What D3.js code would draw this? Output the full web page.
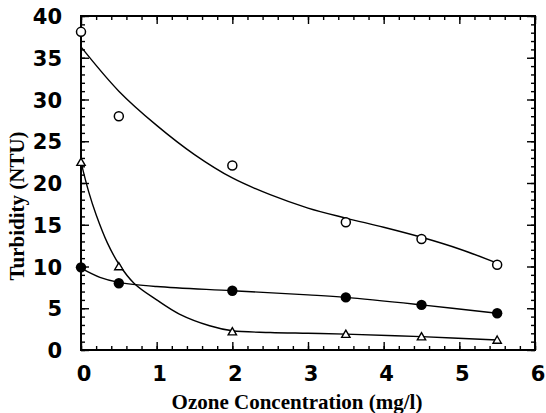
<!DOCTYPE html>
<html>
<head>
<meta charset="utf-8">
<script src="https://cdn.jsdelivr.net/npm/d3@7"></script>
<style>
  body { margin: 0; background: #fff; }
  svg { display: block; }
</style>
</head>
<body>
<div id="chart"></div>
<script>
// measured points
let ozone = [0, 0.5, 2, 3.5, 4.5, 5.5];
let openCircles = [38.1, 28.0, 22.1, 15.3, 13.3, 10.2];
let filledCircles = [9.9, 8.0, 7.1, 6.3, 5.4, 4.4];
let triangles = [22.4, 9.9, 2.1, 1.8, 1.5, 1.1];

// fitted curves
let openCurveX = [0, 0.5, 1, 1.5, 2, 2.5, 3, 3.5, 4, 4.5, 5, 5.5];
let openCurveY = [36.3, 31.0, 26.9, 23.4, 20.6, 18.6, 17.0, 15.8, 14.7, 13.5, 12.1, 10.4];
let filledCurveX = [0, 0.25, 0.5, 1, 2, 3, 3.5, 4.5, 5.5];
let filledCurveY = [9.8, 8.7, 8.1, 7.6, 7.1, 6.6, 6.3, 5.4, 4.4];
let triCurveX = [0, 0.1, 0.2, 0.35, 0.5, 0.7, 1.0, 1.3, 1.7, 2.0, 2.5, 3.0, 3.5, 4.5, 5.5];
let triCurveY = [22.5, 19.0, 16.2, 12.8, 10.3, 8.0, 6.0, 4.3, 2.9, 2.3, 2.1, 2.0, 1.9, 1.6, 1.2];

let xTicks = [0, 1, 2, 3, 4, 5, 6];
let yTicks = [0, 5, 10, 15, 20, 25, 30, 35, 40];

let width = 546, height = 413;
let margin = {left: 81, right: 11, top: 16, bottom: 63};

let svg = d3.select("#chart")
    .append("svg")
    .attr("width", width)
    .attr("height", height);

let x = d3.scaleLinear().domain([0, 6]).range([margin.left, width - margin.right]);
let y = d3.scaleLinear().domain([0, 40]).range([height - margin.bottom, margin.top]);

let innerW = width - margin.left - margin.right;
let innerH = height - margin.top - margin.bottom;

// ticks pointing inward, on all four sides
function tickAxis(axisFn, scale, values, size, translate) {
    svg.append("g")
        .attr("transform", translate)
        .call(axisFn(scale).tickValues(values).tickSize(size).tickFormat(""))
        .call(g => g.select(".domain").remove())
        .selectAll("line").attr("stroke", "#000").attr("stroke-width", 1.4);
}

let xMinor = d3.range(0, 30.5).map(d => d / 5);
let yMinor = d3.range(0, 41);

tickAxis(d3.axisTop, x, xMinor, 4, `translate(0,${y(0)})`);
tickAxis(d3.axisTop, x, xTicks, 8, `translate(0,${y(0)})`);
tickAxis(d3.axisBottom, x, xMinor, 4, `translate(0,${y(40)})`);
tickAxis(d3.axisBottom, x, xTicks, 8, `translate(0,${y(40)})`);
tickAxis(d3.axisRight, y, yMinor, 4, `translate(${x(0)},0)`);
tickAxis(d3.axisRight, y, yTicks, 8, `translate(${x(0)},0)`);
tickAxis(d3.axisLeft, y, yMinor, 4, `translate(${x(6)},0)`);
tickAxis(d3.axisLeft, y, yTicks, 8, `translate(${x(6)},0)`);

// frame
svg.append("rect")
    .attr("x", margin.left)
    .attr("y", margin.top)
    .attr("width", innerW)
    .attr("height", innerH)
    .attr("fill", "none")
    .attr("stroke", "#000")
    .attr("stroke-width", 2);

// tick labels
svg.append("g").selectAll("text")
    .data(xTicks)
    .enter().append("text")
    .attr("x", d => x(d) + 3)
    .attr("y", y(0) + 31)
    .attr("text-anchor", "middle")
    .style("font", "bold 21px 'DejaVu Sans', sans-serif")
    .text(d => d);

svg.append("g").selectAll("text")
    .data(yTicks)
    .enter().append("text")
    .attr("x", x(0) - 19)
    .attr("y", d => y(d) + 8)
    .attr("text-anchor", "end")
    .style("font", "bold 21px 'DejaVu Sans', sans-serif")
    .text(d => d);

// axis titles
svg.append("text")
    .attr("x", 297)
    .attr("y", 409)
    .attr("text-anchor", "middle")
    .style("font", "bold 21px 'Liberation Serif', serif")
    .text("Ozone Concentration (mg/l)");

svg.append("text")
    .attr("transform", "translate(24,206) rotate(-90)")
    .attr("text-anchor", "middle")
    .style("font", "bold 21px 'Liberation Serif', serif")
    .text("Turbidity (NTU)");

// curves
let line = d3.line()
    .x(d => x(d[0]))
    .y(d => y(d[1]))
    .curve(d3.curveCatmullRom);

let curves = [
    d3.zip(openCurveX, openCurveY),
    d3.zip(filledCurveX, filledCurveY),
    d3.zip(triCurveX, triCurveY)
];

svg.append("g").selectAll("path")
    .data(curves)
    .enter().append("path")
    .attr("d", line)
    .attr("fill", "none")
    .attr("stroke", "#000")
    .attr("stroke-width", 1.4);

// markers
svg.append("g").selectAll("circle")
    .data(d3.zip(ozone, openCircles))
    .enter().append("circle")
    .attr("cx", d => x(d[0]))
    .attr("cy", d => y(d[1]))
    .attr("r", 4.5)
    .attr("fill", "#fff")
    .attr("stroke", "#000")
    .attr("stroke-width", 1.5);

svg.append("g").selectAll("circle")
    .data(d3.zip(ozone, filledCircles))
    .enter().append("circle")
    .attr("cx", d => x(d[0]))
    .attr("cy", d => y(d[1]))
    .attr("r", 5.2)
    .attr("fill", "#000");

let tri = d3.symbol().type(d3.symbolTriangle).size(30);
svg.append("g").selectAll("path")
    .data(d3.zip(ozone, triangles))
    .enter().append("path")
    .attr("transform", d => `translate(${x(d[0])},${y(d[1])})`)
    .attr("d", tri)
    .attr("fill", "#fff")
    .attr("stroke", "#000")
    .attr("stroke-width", 1.4);
</script>
</body>
</html>
